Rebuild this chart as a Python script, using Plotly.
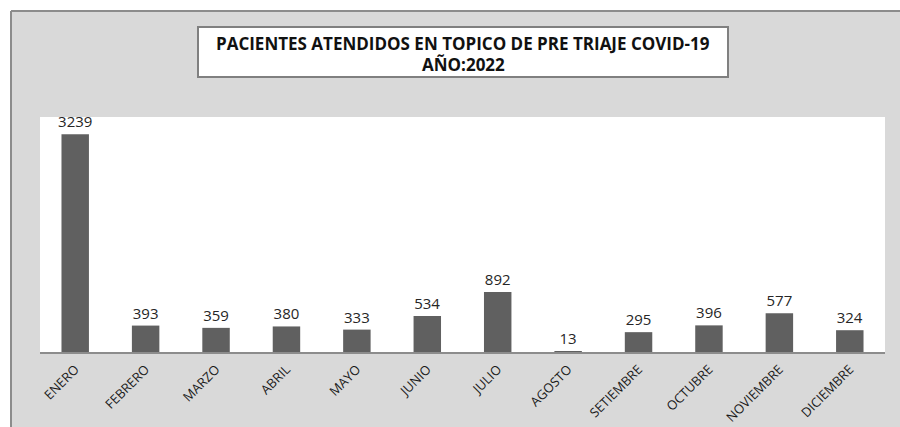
import plotly.graph_objects as go

months = ["ENERO", "FEBRERO", "MARZO", "ABRIL", "MAYO", "JUNIO", "JULIO",
          "AGOSTO", "SETIEMBRE", "OCTUBRE", "NOVIEMBRE", "DICIEMBRE"]
patients = [3239, 393, 359, 380, 333, 534, 892, 13, 295, 396, 577, 324]

title_line1 = "PACIENTES ATENDIDOS EN TOPICO DE PRE TRIAJE COVID-19"
title_line2 = "AÑO:2022"

W, H = 900, 427
L, R, T, B = 40, 15, 117, 75
pw, ph = W - L - R, H - T - B


def px_x(x):
    return (x - L) / pw


def px_y(y):
    return (H - B - y) / ph


fig = go.Figure(go.Bar(
    x=months, y=patients,
    marker=dict(color="#606060", line=dict(width=0)),
    text=[str(v) for v in patients],
    textposition="outside",
    constraintext="none",
    textfont=dict(family="Open Sans", size=15, color="#262626"),
    cliponaxis=False,
))

shapes = [
    dict(type="rect", xref="paper", yref="paper", x0=px_x(-5), x1=px_x(11), y0=px_y(440), y1=px_y(-5),
         fillcolor="white", line=dict(width=0), layer="above"),
    dict(type="rect", xref="paper", yref="paper", x0=px_x(-5), x1=px_x(905), y0=px_y(11), y1=px_y(-5),
         fillcolor="white", line=dict(width=0), layer="above"),
    dict(type="line", xref="paper", yref="paper", x0=px_x(11), x1=px_x(905), y0=px_y(11), y1=px_y(11),
         line=dict(color="#8c8c8c", width=2)),
    dict(type="line", xref="paper", yref="paper", x0=px_x(11), x1=px_x(11), y0=px_y(11), y1=px_y(440),
         line=dict(color="#8c8c8c", width=2)),
    dict(type="rect", xref="paper", yref="paper", x0=px_x(198), x1=px_x(728), y0=px_y(77), y1=px_y(27),
         fillcolor="white", line=dict(color="#808080", width=2)),
]

fig.update_layout(
    width=W, height=H,
    margin=dict(l=L, r=R, t=T, b=B, autoexpand=False),
    paper_bgcolor="#d9d9d9",
    plot_bgcolor="white",
    showlegend=False,
    bargap=0.61,
    shapes=shapes,
    annotations=[
        dict(xref="paper", yref="paper", x=px_x(463), y=px_y(43), text="<b>" + title_line1 + "</b>",
             showarrow=False, xanchor="center", yanchor="middle",
             font=dict(family="Open Sans", size=17, color="#111111")),
        dict(xref="paper", yref="paper", x=px_x(463), y=px_y(64), text="<b>" + title_line2 + "</b>",
             showarrow=False, xanchor="center", yanchor="middle",
             font=dict(family="Open Sans", size=17, color="#111111")),
    ],
    xaxis=dict(
        showline=True, linecolor="#8c8c8c", linewidth=1.5,
        tickangle=-45, ticks="", showgrid=False, automargin=False,
        ticklabelstandoff=3,
        tickfont=dict(family="Open Sans", size=13, color="#1a1a1a"),
    ),
    yaxis=dict(range=[0, 3495], showticklabels=False, showgrid=False, zeroline=False,
               showline=False, automargin=False),
)

fig.write_html("out.html", config={"displayModeBar": False},
               post_script="document.body.style.margin='0';document.body.style.padding='0';")
